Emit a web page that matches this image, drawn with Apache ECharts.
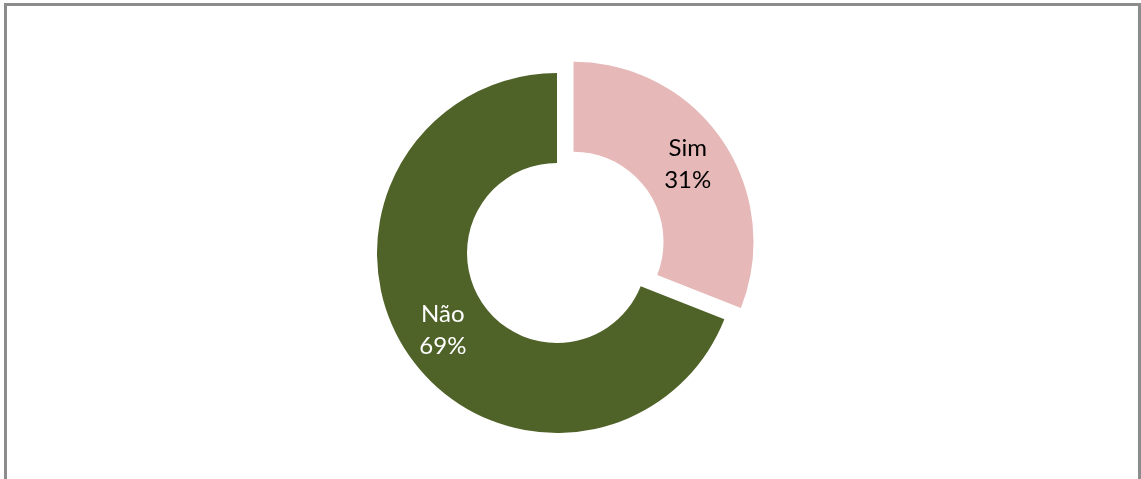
<!DOCTYPE html>
<html>
<head>
<meta charset="utf-8">
<title>Sim / Não</title>
<script src="https://cdn.jsdelivr.net/npm/echarts@6/dist/echarts.min.js"></script>
<style>
  html, body { margin: 0; padding: 0; background: #ffffff; }
  #chart { width: 1141px; height: 479px; }
</style>
</head>
<body>
<div id="chart"></div>
<script>
// Answer categories and their shares (percent)
const categories = ['Sim', 'Não'];
const shares = [31, 69];
const colors = ['#E6B9B8', '#4F6228'];
const labelColors = ['#000000', '#ffffff'];
const labelOffsets = [[-1, 4], [0, 0]];

const chart = echarts.init(document.getElementById('chart'), null, { renderer: 'canvas' });

const data = categories.map((name, i) => ({
  name: name,
  value: shares[i],
  selected: i === 0,
  itemStyle: { color: colors[i] },
  label: { color: labelColors[i], offset: labelOffsets[i] }
}));

chart.setOption({
  animation: false,
  backgroundColor: '#ffffff',
  graphic: [
    {
      type: 'polyline',
      shape: { points: [[5.5, 479], [5.5, 4.5], [1139.5, 4.5], [1139.5, 479]] },
      style: { stroke: '#8c8c8c', lineWidth: 3, fill: null }
    }
  ],
  series: [
    {
      type: 'pie',
      center: [557, 253],
      radius: [90, 180],
      startAngle: 90,
      clockwise: true,
      selectedMode: 'single',
      selectedOffset: 20,
      avoidLabelOverlap: false,
      emphasis: { disabled: true },
      label: {
        show: true,
        position: 'inside',
        formatter: p => p.name + '\n' + p.value + '%',
        fontFamily: 'Lato, "Open Sans", sans-serif',
        fontSize: 24,
        lineHeight: 32,
        align: 'center'
      },
      labelLine: { show: false },
      data: data
    }
  ]
});
</script>
</body>
</html>
